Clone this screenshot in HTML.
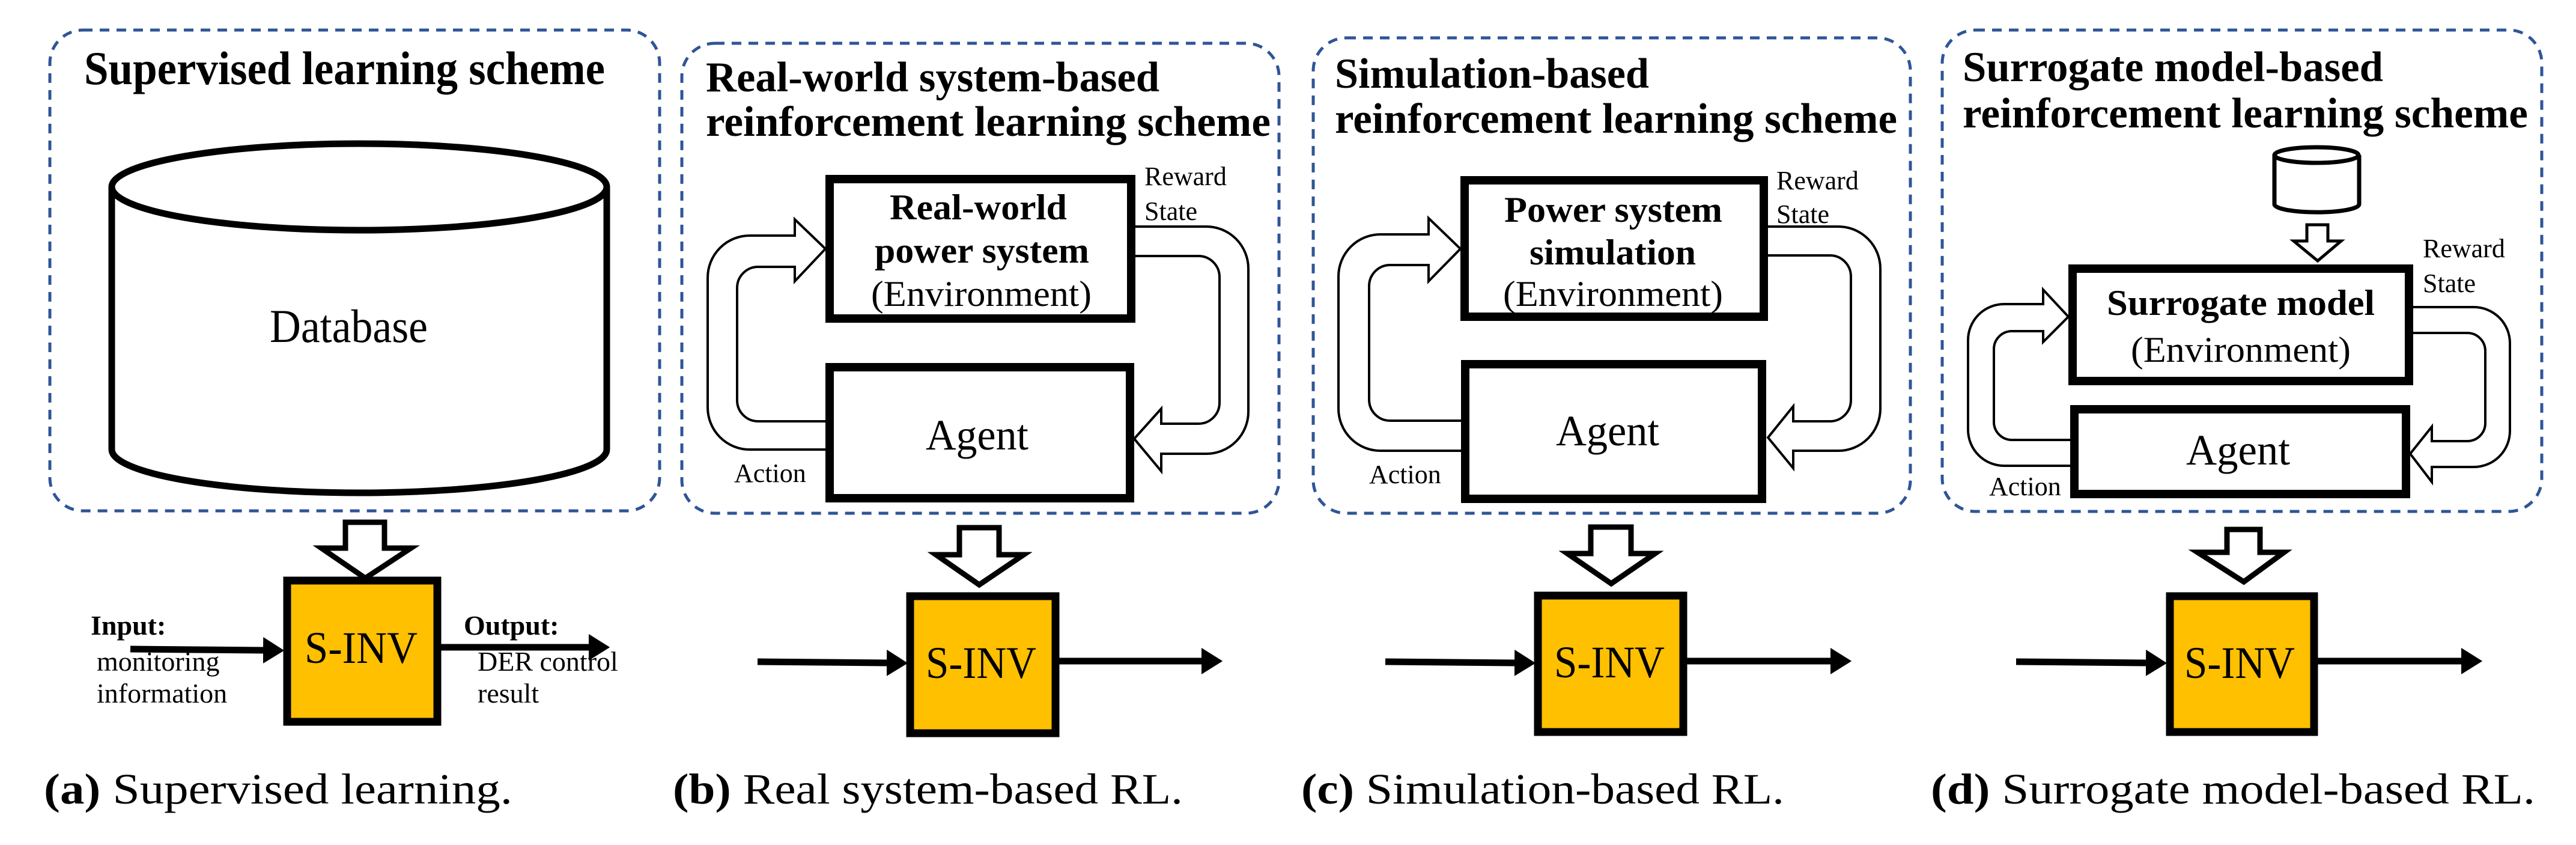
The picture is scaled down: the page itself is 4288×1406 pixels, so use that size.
<!DOCTYPE html>
<html><head><meta charset="utf-8"><style>
html,body{margin:0;padding:0;background:#fff;}
svg{display:block;}
svg text{font-family:"Liberation Serif","Times New Roman",Times,"Nimbus Roman No9 L","DejaVu Serif",serif;fill:#000;font-weight:normal;}
svg text.t{font-weight:bold;font-size:71px;}
svg .b{font-weight:bold;}
</style></head><body>
<svg width="4288" height="1406" viewBox="0 0 4288 1406" xmlns="http://www.w3.org/2000/svg" font-family="Liberation Serif, serif">
<defs>
<marker id="ah" markerWidth="4" markerHeight="4" refX="0" refY="2" orient="auto" markerUnits="strokeWidth"><path d="M0,0 L3.2,2 L0,4 z" fill="#000"/></marker>
</defs>
<g fill="none" stroke="#2F5597" stroke-width="5" stroke-dasharray="16 12">
<rect x="83" y="50" width="1015" height="800" rx="55"/>
<rect x="1135" y="72" width="994" height="782" rx="55"/>
<rect x="2186" y="63" width="994" height="791" rx="55"/>
<rect x="3233" y="50" width="998" height="801" rx="55"/>
</g>

<text class="t" x="140" y="140" textLength="867" lengthAdjust="spacingAndGlyphs" style="font-size:78px">Supervised learning scheme</text>
<text class="t" x="1175" y="152" textLength="755" lengthAdjust="spacingAndGlyphs">Real-world system-based</text>
<text class="t" x="1175" y="226" textLength="940" lengthAdjust="spacingAndGlyphs">reinforcement learning scheme</text>
<text class="t" x="2222" y="146" textLength="523" lengthAdjust="spacingAndGlyphs">Simulation-based</text>
<text class="t" x="2222" y="221" textLength="936" lengthAdjust="spacingAndGlyphs">reinforcement learning scheme</text>
<text class="t" x="3267" y="135" textLength="700" lengthAdjust="spacingAndGlyphs">Surrogate model-based</text>
<text class="t" x="3267" y="212" textLength="941" lengthAdjust="spacingAndGlyphs">reinforcement learning scheme</text>

<g fill="none" stroke="#000" stroke-width="11">
<path d="M186,311 L186,748 A412,72 0 0 0 1010,748 L1010,311"/>
<ellipse cx="598" cy="311" rx="412" ry="72"/>
</g>
<text x="449" y="569" style="font-size:78px" textLength="263" lengthAdjust="spacingAndGlyphs">Database</text>

<g fill="#fff" stroke="#000" stroke-width="9" stroke-linejoin="miter">
<path d="M575,869 L640,869 L640,912 L684,912 L608,962 L535,912 L575,912 Z"/>
<path d="M1597,878 L1663,878 L1663,923 L1704,923 L1630,973 L1558,923 L1597,923 Z"/>
<path d="M2648,877 L2715,877 L2715,921 L2755,921 L2682,971 L2609,921 L2648,921 Z"/>
<path d="M3707,881 L3762,881 L3762,919 L3802,919 L3735,968 L3658,919 L3707,919 Z"/>
</g>
<path d="M3840,374 L3875,374 L3875,401 L3897,401 L3858,434 L3818,401 L3840,401 Z" fill="#fff" stroke="#000" stroke-width="5"/>

<g fill="#FFC000" stroke="#000" stroke-width="13">
<rect x="478" y="966" width="250" height="235"/>
<rect x="1515" y="992" width="242" height="228"/>
<rect x="2560" y="991" width="242" height="227"/>
<rect x="3612" y="992" width="240" height="226"/>
</g>
<g style="font-size:75px">
<text x="507" y="1103" textLength="188" lengthAdjust="spacingAndGlyphs" style="font-size:75px">S-INV</text>
<text x="1541" y="1128" textLength="184" lengthAdjust="spacingAndGlyphs" style="font-size:75px">S-INV</text>
<text x="2587" y="1127" textLength="184" lengthAdjust="spacingAndGlyphs" style="font-size:75px">S-INV</text>
<text x="3636" y="1128" textLength="184" lengthAdjust="spacingAndGlyphs" style="font-size:75px">S-INV</text>
</g>

<g stroke="#000" stroke-width="11" marker-end="url(#ah)">
<line x1="217" y1="1080" x2="438" y2="1082"/>
<line x1="734" y1="1077" x2="980" y2="1077"/>
<line x1="1261" y1="1101" x2="1476" y2="1103"/>
<line x1="1763" y1="1100" x2="2000" y2="1100"/>
<line x1="2306" y1="1101" x2="2521" y2="1103"/>
<line x1="2808" y1="1100" x2="3047" y2="1100"/>
<line x1="3356" y1="1101" x2="3572" y2="1103"/>
<line x1="3858" y1="1100" x2="4097" y2="1100"/>
</g>
<text class="b" x="151" y="1056" style="font-size:46px">Input:</text>
<text x="161" y="1116" style="font-size:46px">monitoring</text>
<text x="161" y="1169" style="font-size:46px">information</text>
<text class="b" x="772" y="1056" style="font-size:46px">Output:</text>
<text x="795" y="1116" style="font-size:46px">DER control</text>
<text x="795" y="1169" style="font-size:46px">result</text>

<g fill="#fff" stroke="#000" stroke-width="14">
<rect x="1381" y="298" width="502" height="232"/>
<rect x="1381" y="611" width="500" height="218"/>
<rect x="2438" y="300" width="498" height="227"/>
<rect x="2439" y="606" width="494" height="224"/>
<rect x="3450" y="447" width="560" height="187"/>
<rect x="3453" y="681" width="552" height="141"/>
</g>
<text class="b" x="1481" y="365" textLength="295" lengthAdjust="spacingAndGlyphs" style="font-size:60px">Real-world</text>
<text class="b" x="1456" y="437" textLength="357" lengthAdjust="spacingAndGlyphs" style="font-size:60px">power system</text>
<text x="1450" y="509" textLength="367" lengthAdjust="spacingAndGlyphs" style="font-size:60px">(Environment)</text>
<text class="b" x="2504" y="369" textLength="363" lengthAdjust="spacingAndGlyphs" style="font-size:60px">Power system</text>
<text class="b" x="2546" y="440" textLength="277" lengthAdjust="spacingAndGlyphs" style="font-size:60px">simulation</text>
<text x="2502" y="509" textLength="366" lengthAdjust="spacingAndGlyphs" style="font-size:60px">(Environment)</text>
<text class="b" x="3507" y="524" textLength="446" lengthAdjust="spacingAndGlyphs" style="font-size:60px">Surrogate model</text>
<text x="3547" y="602" textLength="366" lengthAdjust="spacingAndGlyphs" style="font-size:60px">(Environment)</text>
<text x="1541" y="748" textLength="171" lengthAdjust="spacingAndGlyphs" style="font-size:72px">Agent</text>
<text x="2590" y="741" textLength="172" lengthAdjust="spacingAndGlyphs" style="font-size:72px">Agent</text>
<text x="3639" y="773" textLength="173" lengthAdjust="spacingAndGlyphs" style="font-size:72px">Agent</text>

<g fill="#fff" stroke="#000" stroke-width="7">
<path d="M3786,258 L3786,340 A70,13 0 0 0 3927,340 L3927,258"/>
<ellipse cx="3856" cy="258" rx="70" ry="13"/>
</g>

<g fill="none" stroke="#000" stroke-width="4" stroke-linejoin="miter">
<path d="M1374,748 L1248,748 A70,70 0 0 1 1178,678 L1178,462 A70,70 0 0 1 1248,392 L1323,392 L1323,365 L1374,414 L1323,468 L1323,444 L1262,444 A35,35 0 0 0 1227,479 L1227,666 A35,35 0 0 0 1262,701 L1374,701"/>
<path d="M1890,377 L2008,377 A70,70 0 0 1 2078,447 L2078,685 A70,70 0 0 1 2008,755 L1933,755 L1933,784 L1888,730 L1933,680 L1933,705 L1995,705 A35,35 0 0 0 2030,670 L2030,461 A35,35 0 0 0 1995,426 L1890,426"/>
<path d="M2432,750 L2298,750 A70,70 0 0 1 2228,680 L2228,460 A70,70 0 0 1 2298,390 L2378,390 L2378,363 L2431,414 L2378,468 L2378,441 L2314,441 A35,35 0 0 0 2279,476 L2279,665 A35,35 0 0 0 2314,700 L2432,700"/>
<path d="M2943,377 L3060,377 A70,70 0 0 1 3130,447 L3130,680 A70,70 0 0 1 3060,750 L2985,750 L2985,779 L2943,728 L2985,676 L2985,701 L3046,701 A35,35 0 0 0 3081,666 L3081,460 A35,35 0 0 0 3046,425 L2943,425"/>
<path d="M3446,775 L3336,775 A60,60 0 0 1 3276,715 L3276,566 A60,60 0 0 1 3336,506 L3401,506 L3401,482 L3443,527 L3401,569 L3401,551 L3349,551 A30,30 0 0 0 3319,581 L3319,702 A30,30 0 0 0 3349,732 L3446,732"/>
<path d="M4017,511 L4118,511 A60,60 0 0 1 4178,571 L4178,717 A60,60 0 0 1 4118,777 L4048,777 L4048,802 L4012,755 L4048,710 L4048,734 L4107,734 A30,30 0 0 0 4137,704 L4137,584 A30,30 0 0 0 4107,554 L4017,554"/>
</g>
<text x="1905" y="308" style="font-size:44px">Reward</text>
<text x="1905" y="366" style="font-size:44px">State</text>
<text x="1222" y="802" style="font-size:44px">Action</text>
<text x="2957" y="315" style="font-size:44px">Reward</text>
<text x="2957" y="371" style="font-size:44px">State</text>
<text x="2279" y="804" style="font-size:44px">Action</text>
<text x="4033" y="428" style="font-size:44px">Reward</text>
<text x="4033" y="486" style="font-size:44px">State</text>
<text x="3311" y="824" style="font-size:44px">Action</text>

<text x="73" y="1337" textLength="780" lengthAdjust="spacingAndGlyphs" style="font-size:72px"><tspan class="b">(a)</tspan> Supervised learning.</text>
<text x="1120" y="1337" textLength="849" lengthAdjust="spacingAndGlyphs" style="font-size:72px"><tspan class="b">(b)</tspan> Real system-based RL.</text>
<text x="2166" y="1337" textLength="804" lengthAdjust="spacingAndGlyphs" style="font-size:72px"><tspan class="b">(c)</tspan> Simulation-based RL.</text>
<text x="3214" y="1337" textLength="1006" lengthAdjust="spacingAndGlyphs" style="font-size:72px"><tspan class="b">(d)</tspan> Surrogate model-based RL.</text>
</svg>
</body></html>
